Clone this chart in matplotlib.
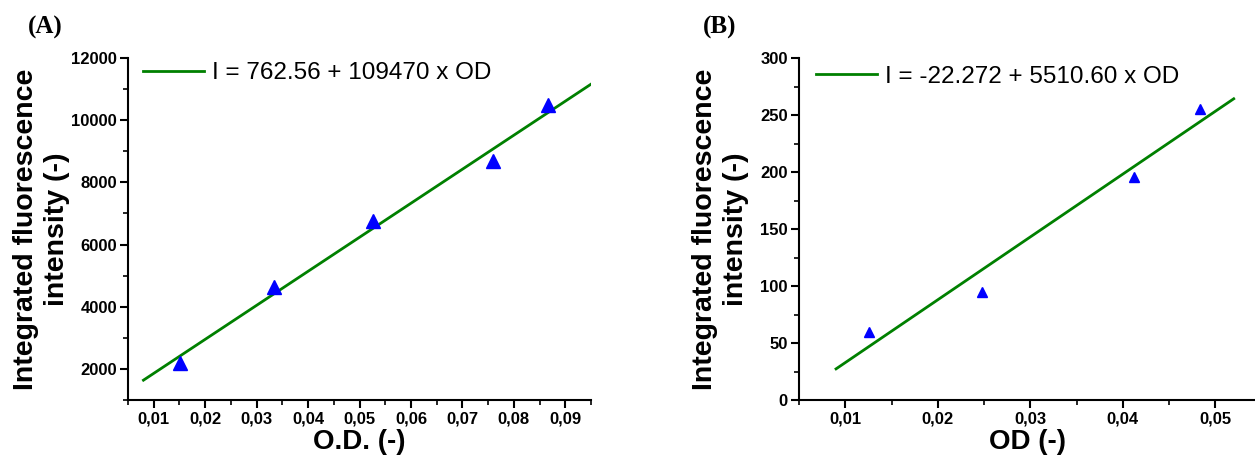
import matplotlib
matplotlib.use("Agg")
import matplotlib.pyplot as plt
import numpy as np

# panel A data
od_a = [0.0152, 0.0333, 0.0526, 0.0759, 0.0866]
int_a = [2200, 4650, 6770, 8700, 10480]
fit_a = (762.56, 109470)
fit_range_a = [0.008, 0.095]
xticks_a = [0.01, 0.02, 0.03, 0.04, 0.05, 0.06, 0.07, 0.08, 0.09]
xlabels_a = ["0,01", "0,02", "0,03", "0,04", "0,05", "0,06", "0,07", "0,08", "0,09"]
yticks_a = [2000, 4000, 6000, 8000, 10000, 12000]

# panel B data
od_b = [0.0126, 0.0248, 0.0412, 0.0484]
int_b = [60, 95, 196, 255]
fit_b = (-22.272, 5510.60)
fit_range_b = [0.009, 0.052]
xticks_b = [0.01, 0.02, 0.03, 0.04, 0.05]
xlabels_b = ["0,01", "0,02", "0,03", "0,04", "0,05"]
yticks_b = [0, 50, 100, 150, 200, 250, 300]

plt.rcParams['font.family'] = ['Liberation Sans', 'DejaVu Sans']

fig = plt.figure(figsize=(12.55, 4.59), dpi=100)
ax1 = fig.add_axes([0.102, 0.1285, 0.369, 0.745])
ax2 = fig.add_axes([0.6367, 0.1285, 0.3633, 0.745])


def style_axis(ax, xticks, xlabels, yticks, xminor, yminor):
    for s in ['top', 'right']:
        ax.spines[s].set_visible(False)
    for s in ['left', 'bottom']:
        ax.spines[s].set_linewidth(1.5)
    ax.set_xticks(xticks)
    ax.set_xticklabels(xlabels)
    ax.set_yticks(yticks)
    ax.set_yticklabels([str(v) for v in yticks])
    ax.set_xticks(xminor, minor=True)
    ax.set_yticks(yminor, minor=True)
    ax.tick_params(which='major', direction='out', length=6, width=1.5,
                   labelsize=12, pad=2)
    ax.tick_params(which='minor', direction='out', length=3.5, width=1.2)
    for lab in ax.get_xticklabels() + ax.get_yticklabels():
        lab.set_fontweight('bold')


# (A)
xf = np.array(fit_range_a)
ax1.plot(xf, fit_a[0] + fit_a[1] * xf, color='#008000', lw=2,
         label="I = 762.56 + 109470 x OD")
ax1.plot(od_a, int_a, '^', color='blue', ms=10, zorder=3)
ax1.set_xlim(0.005, 0.095)
ax1.set_ylim(1000, 12000)
style_axis(ax1, xticks_a, xlabels_a, yticks_a,
           np.arange(0.005, 0.0951, 0.005), np.arange(1000, 12001, 1000))
ax1.set_xlabel("O.D. (-)", fontsize=20, fontweight='bold', labelpad=2)
ax1.set_ylabel("Integrated fluorescence\nintensity (-)", fontsize=20.5,
               fontweight='bold', labelpad=1, linespacing=1.25)
ax1.legend(loc='center left', bbox_to_anchor=(0.032, 0.956), frameon=False,
           fontsize=17.5, handlelength=2.5, handletextpad=0.35, borderpad=0,
           borderaxespad=0)

# (B)
xf = np.array(fit_range_b)
ax2.plot(xf, fit_b[0] + fit_b[1] * xf, color='#008000', lw=2,
         label="I = -22.272 + 5510.60 x OD")
ax2.plot(od_b, int_b, '^', color='blue', ms=6.5, zorder=3)
ax2.set_xlim(0.005, 0.0543)
ax2.set_ylim(0, 300)
style_axis(ax2, xticks_b, xlabels_b, yticks_b,
           np.arange(0.005, 0.0541, 0.005), np.arange(0, 301, 25))
ax2.set_xlabel("OD (-)", fontsize=20, fontweight='bold', labelpad=2)
ax2.set_ylabel("Integrated fluorescence\nintensity (-)", fontsize=20.5,
               fontweight='bold', labelpad=8, linespacing=1.25)
ax2.legend(loc='center left', bbox_to_anchor=(0.037, 0.945), frameon=False,
           fontsize=17.5, handlelength=2.5, handletextpad=0.35, borderpad=0,
           borderaxespad=0)

fig.text(0.022, 0.94, "(A)", fontsize=18, fontweight='bold',
         family='Liberation Serif', va='center')
fig.text(0.560, 0.94, "(B)", fontsize=18, fontweight='bold',
         family='Liberation Serif', va='center')

fig.savefig("out.png", dpi=100)
